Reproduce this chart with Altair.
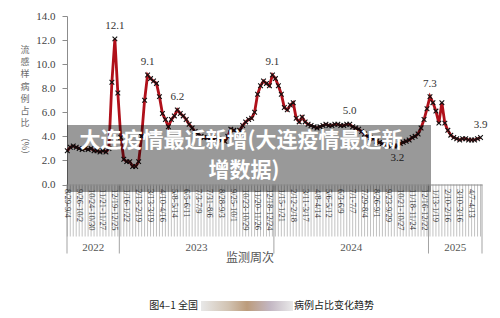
import altair as alt
import pandas as pd

# ---- data -------------------------------------------------------------
values = [
    2.8, 3.1, 3.2, 3.1, 3.0, 2.9, 3.0, 2.9, 3.0, 2.8,
    2.8, 2.7, 2.8, 2.7, 3.0, 8.5, 12.1, 7.6, 3.9, 2.1,
    1.9, 1.9, 1.5, 1.5, 1.9, 4.0, 7.0, 9.1, 8.8, 8.6,
    8.4, 7.3, 5.9, 5.4, 4.8, 5.4, 5.7, 6.2, 5.9, 5.7,
    5.4, 5.0, 4.7, 4.4, 4.2, 4.0, 3.9, 3.9, 3.8, 3.8,
    3.9, 3.8, 3.7, 3.6, 4.0, 4.6, 4.5, 4.4, 4.5, 4.9,
    5.2, 5.4, 5.5, 6.0, 7.5, 8.2, 8.6, 8.4, 8.2, 9.1,
    8.8, 8.2, 7.5, 6.4, 6.2, 6.6, 6.8, 5.5, 5.2, 5.6,
    5.2, 5.0, 4.9, 4.8, 4.7, 4.8, 4.9, 5.0, 4.9, 4.9,
    5.0, 5.0, 4.9, 4.9, 5.0, 5.0, 4.8, 4.7, 4.6, 4.4,
    4.2, 4.0, 3.9, 3.8, 3.6, 3.5, 3.4, 3.3, 3.3, 3.2,
    3.2, 3.2, 3.4, 3.5, 3.6, 3.7, 3.9, 4.0, 4.2, 4.7,
    5.4, 6.3, 7.3, 6.8, 6.1, 5.1, 6.8, 5.1, 4.5, 4.1,
    3.9, 3.8, 3.7, 3.8, 3.8, 3.7, 3.7, 3.7, 3.8, 3.9,
]
weeks = list(range(len(values)))

tick_labels = [
    "8/29-9/4", "9/26-10/2", "10/24-10/30", "11/21-11/27", "12/19-12/25",
    "1/16-1/22", "2/13-2/19", "3/13-3/19", "4/10-4/16", "5/8-5/14",
    "6/5-6/11", "7/3-7/9", "7/31-8/6", "8/28-9/3", "9/25-10/1",
    "10/23-10/29", "11/20-11/26", "12/18-12/24", "1/15-1/21", "2/12-2/18",
    "3/11-3/17", "4/8-4/14", "5/6-5/12", "6/3-6/9", "7/1-7/7",
    "7/29-8/4", "8/26-9/1", "9/23-9/29", "10/21-10/27", "11/18-11/24",
    "12/16-12/22", "1/13-1/19", "2/10-2/16", "3/10-3/16", "4/7-4/13",
]
tick_weeks = [4 * k for k in range(len(tick_labels))]

year_names = ["2022", "2023", "2024", "2025"]
year_start = [-0.1, 17.5, 69.5, 121.5]
year_end = [17.5, 69.5, 121.5, 139.5]

peak_weeks = [16, 27, 37, 69, 95, 122, 139]
peak_text = ["12.1", "9.1", "6.2", "9.1", "5.0", "7.3", "3.9"]
trough_weeks = [111]
trough_text = ["3.2"]

ytitle_chars = ["流", "感", "样", "病", "例", "占", "比"]

# ---- frames -----------------------------------------------------------
df = pd.DataFrame({"week": weeks, "value": values})
df_years = pd.DataFrame({"year": year_names, "start": year_start, "end": year_end})
df_years["mid"] = (df_years["start"] + df_years["end"]) / 2
df_bounds = pd.DataFrame({"b": sorted(set(year_start + year_end))})
df_peaks = pd.DataFrame({"week": peak_weeks, "text": peak_text,
                         "value": [values[w] for w in peak_weeks]})
df_troughs = pd.DataFrame({"week": trough_weeks, "text": trough_text,
                           "value": [values[w] for w in trough_weeks]})
df_ychars = pd.DataFrame({"ch": ytitle_chars, "k": list(range(len(ytitle_chars)))})

W, H = 415, 168.5
XDOM = [-0.1, 139.5]
xs = alt.Scale(domain=XDOM, nice=False, zero=False)
ys = alt.Scale(domain=[0, 14], nice=False)
SERIF = "Liberation Serif"
CJK = "Noto Sans CJK SC"

label_expr = "[" + ",".join("'" + t + "'" for t in tick_labels) + "][round(datum.value/4)]"

XAXIS = alt.Axis(values=tick_weeks, labelExpr=label_expr, labelAngle=90,
                 labelAlign="left", labelBaseline="middle",
                 labelFont=SERIF, labelFontSize=8.5, labelColor="#333333",
                 labelPadding=4, ticks=False, domainColor="#8c8c8c",
                 labelOverlap=False, labelFlush=False, grid=False, zindex=1, title=None)
YAXIS = alt.Axis(values=[0, 2, 4, 6, 8, 10, 12, 14], format=".1f",
                 labelFont=SERIF, labelFontSize=11, labelColor="#444444",
                 tickSize=5, tickColor="#8c8c8c", domainColor="#8c8c8c",
                 labelPadding=7, grid=False, title=None)


def X(field):
    return alt.X(field, type="quantitative", scale=xs, axis=XAXIS)


def Y(field):
    return alt.Y(field, type="quantitative", scale=ys, axis=YAXIS)


base = alt.Chart(df)

week_rules = base.mark_rule(color="#a8a8a8", strokeWidth=0.7).encode(
    x=X("week"), y=alt.value(H), y2=alt.value(H + 52),
)

year_rules = alt.Chart(df_bounds).mark_rule(color="#999999", strokeWidth=0.9).encode(
    x=X("b"), y=alt.value(H), y2=alt.value(H + 69),
)

year_text = alt.Chart(df_years).mark_text(
    font=SERIF, fontSize=11, color="#555555", baseline="middle"
).encode(x=X("mid"), y=alt.value(H + 63), text="year:N")

line = base.mark_line(color="#b0101a", strokeWidth=2.8).encode(x=X("week"), y=Y("value"))

points = base.mark_point(
    shape="M-1,-1L1,1M-1,1L1,-1", filled=False, color="#111111",
    strokeWidth=1.1, size=22, opacity=1,
).encode(x=X("week"), y=Y("value"))

peak_lbl = alt.Chart(df_peaks).mark_text(
    font=SERIF, fontSize=11, color="#333333", dy=-13
).encode(x=X("week"), y=Y("value"), text="text:N")

trough_lbl = alt.Chart(df_troughs).mark_text(
    font=SERIF, fontSize=11, color="#333333", dy=12
).encode(x=X("week"), y=Y("value"), text="text:N")

deco = alt.Chart(pd.DataFrame({"k": [0]}))

banner = deco.mark_rect(color="#000000", opacity=0.4).encode(
    x=alt.value(0), x2=alt.value(364), y=alt.value(109), y2=alt.value(176)
)
banner_t1 = deco.mark_text(font=CJK, fontSize=21, fontWeight="bold", color="white",
                           baseline="middle").encode(
    x=alt.value(174), y=alt.value(125),
    text=alt.value("大连疫情最近新增(大连疫情最近新"))
banner_t2 = deco.mark_text(font=CJK, fontSize=21, fontWeight="bold", color="white",
                           baseline="middle").encode(
    x=alt.value(177), y=alt.value(155), text=alt.value("增数据)"))

ytitle = alt.Chart(df_ychars).transform_calculate(
    py="34 + datum.k * 12.2"
).mark_text(font=CJK, fontSize=9, color="#6a6a6a", baseline="middle").encode(
    x=alt.value(-42), y=alt.Y("py:Q", scale=None), text="ch:N")
ytitle_pct = deco.mark_text(font=CJK, fontSize=9, color="#6a6a6a", angle=90,
                            baseline="middle").encode(
    x=alt.value(-42), y=alt.value(130), text=alt.value("（%）"))

xtitle = deco.mark_text(font=CJK, fontSize=12, color="#555555", baseline="middle").encode(
    x=alt.value(183), y=alt.value(242), text=alt.value("监测周次"))

cap1 = deco.mark_text(font=CJK, fontSize=10, color="#222222", align="right",
                      baseline="middle").encode(
    x=alt.value(131), y=alt.value(290), text=alt.value("图4–1 全国"))
cap2 = deco.mark_text(font=CJK, fontSize=10, color="#222222", align="left",
                      baseline="middle").encode(
    x=alt.value(227), y=alt.value(290), text=alt.value("病例占比变化趋势"))
blur = deco.mark_rect(
    color=alt.Gradient(gradient="linear", x1=0, x2=1, y1=0, y2=0, stops=[
        alt.GradientStop(color="#e4e4e4", offset=0),
        alt.GradientStop(color="#c9b8a4", offset=0.3),
        alt.GradientStop(color="#b08a64", offset=0.5),
        alt.GradientStop(color="#b8aab8", offset=0.75),
        alt.GradientStop(color="#e6e6e6", offset=1),
    ]), opacity=0.85,
).encode(x=alt.value(134), x2=alt.value(226), y=alt.value(285), y2=alt.value(295))

chart = alt.layer(
    week_rules, year_rules, year_text, line, points, peak_lbl, trough_lbl,
    banner, banner_t1, banner_t2, ytitle, ytitle_pct, xtitle, cap1, cap2, blur,
).properties(
    width=W, height=H,
    padding={"left": 67, "top": 16, "right": 18, "bottom": 133.5},
    autosize=alt.AutoSizeParams(type="none"),
    background="white",
).configure_view(stroke=None)

chart.save("out.html", embed_options={"renderer": "svg", "actions": False})
